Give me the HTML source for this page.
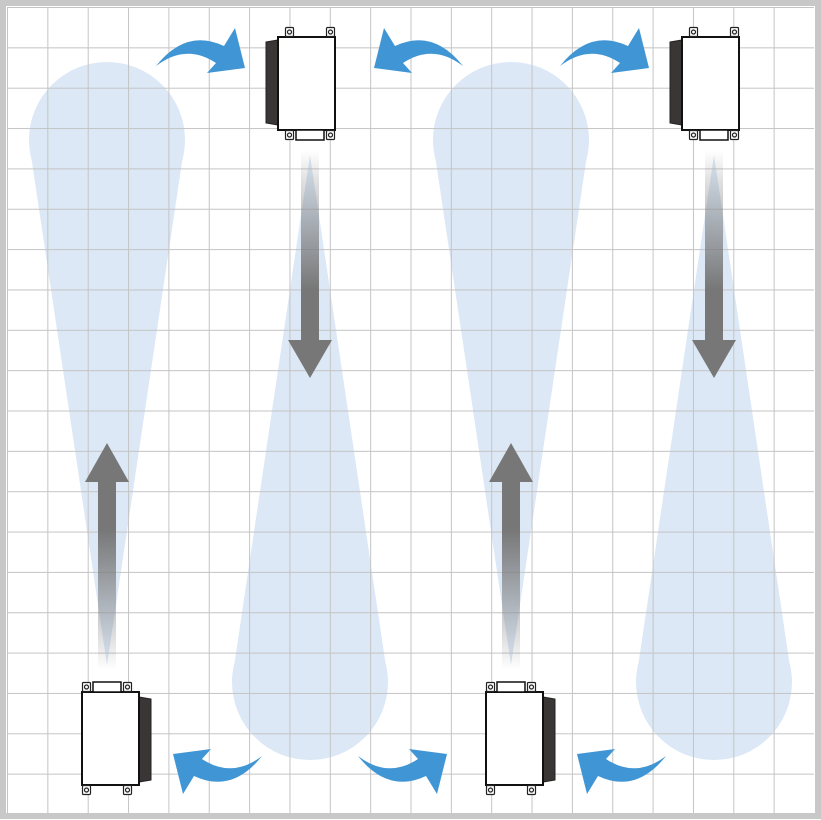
<!DOCTYPE html>
<html><head><meta charset="utf-8"><style>html,body{margin:0;padding:0;background:#fff}svg{display:block}</style></head><body>
<svg width="821" height="820" viewBox="0 0 821 820" xmlns="http://www.w3.org/2000/svg">
<defs>
<pattern id="grid" x="7" y="7" width="40.35" height="40.35" patternUnits="userSpaceOnUse">
<path d="M0,0 V40.35 M0,0 H40.35" stroke="#c4c4c4" stroke-width="2" fill="none"/>
</pattern>
<linearGradient id="gd" x1="0" y1="150" x2="0" y2="290" gradientUnits="userSpaceOnUse"><stop offset="0" stop-color="#777" stop-opacity="0"/><stop offset="1" stop-color="#777"/></linearGradient>
<linearGradient id="gu" x1="0" y1="670" x2="0" y2="530" gradientUnits="userSpaceOnUse"><stop offset="0" stop-color="#777" stop-opacity="0"/><stop offset="1" stop-color="#777"/></linearGradient>
<path id="ca" d="M0,38 Q30,0 68,18 L79,0 L89,40 L51,45 L60,35 Q30,15 0,38 Z" fill="#4096d4"/>
<g id="dev">
<path d="M0,15 L12,13 L12,98 L0,96 Z" fill="#3a3636" stroke="#222" stroke-width="1"/>
<rect x="12" y="10" width="57" height="93" fill="#fff" stroke="#111" stroke-width="2"/>
<rect x="30" y="103" width="28" height="10" fill="#fff" stroke="#111" stroke-width="1.5"/>
<g fill="#fff" stroke="#222" stroke-width="1.2">
<rect x="19.5" y="0.5" width="8" height="9" rx="1"/><rect x="60.5" y="0.5" width="8" height="9" rx="1"/>
<rect x="19.5" y="103.5" width="8" height="9" rx="1"/><rect x="60.5" y="103.5" width="8" height="9" rx="1"/>
<circle cx="23.5" cy="5" r="2"/><circle cx="64.5" cy="5" r="2"/><circle cx="23.5" cy="108" r="2"/><circle cx="64.5" cy="108" r="2"/>
</g>
</g>
</defs>
<rect x="0" y="0" width="821" height="820" fill="#fff"/>
<g fill="#dce8f6">
<circle cx="107" cy="140" r="78"/><polygon points="29,142 185,142 107,665"/>
<circle cx="310" cy="682" r="78"/><polygon points="232,680 388,680 310,155"/>
<circle cx="511" cy="140" r="78"/><polygon points="433,142 589,142 511,665"/>
<circle cx="714" cy="682" r="78"/><polygon points="636,680 792,680 714,155"/>
</g>
<rect x="7" y="7" width="807" height="806" fill="url(#grid)"/>
<rect x="3" y="3" width="815" height="813" fill="none" stroke="#c8c8c8" stroke-width="6"/>
<g>
<rect x="301" y="150" width="18" height="192" fill="url(#gd)"/><polygon points="288,340 332,340 310,378" fill="#777"/>
<rect x="705" y="150" width="18" height="192" fill="url(#gd)"/><polygon points="692,340 736,340 714,378" fill="#777"/>
<rect x="98" y="480" width="18" height="190" fill="url(#gu)"/><polygon points="85,482 129,482 107,443" fill="#777"/>
<rect x="502" y="480" width="18" height="190" fill="url(#gu)"/><polygon points="489,482 533,482 511,443" fill="#777"/>
</g>
<use href="#ca" transform="translate(156,28)"/>
<use href="#ca" transform="translate(463,28) scale(-1,1)"/>
<use href="#ca" transform="translate(560,28)"/>
<use href="#ca" transform="translate(262,794) rotate(180)"/>
<use href="#ca" transform="translate(358,794) scale(1,-1)"/>
<use href="#ca" transform="translate(666,794) rotate(180)"/>
<use href="#dev" transform="translate(266,27)"/>
<use href="#dev" transform="translate(670,27)"/>
<use href="#dev" transform="translate(151,795) rotate(180)"/>
<use href="#dev" transform="translate(555,795) rotate(180)"/>
</svg>
</body></html>
